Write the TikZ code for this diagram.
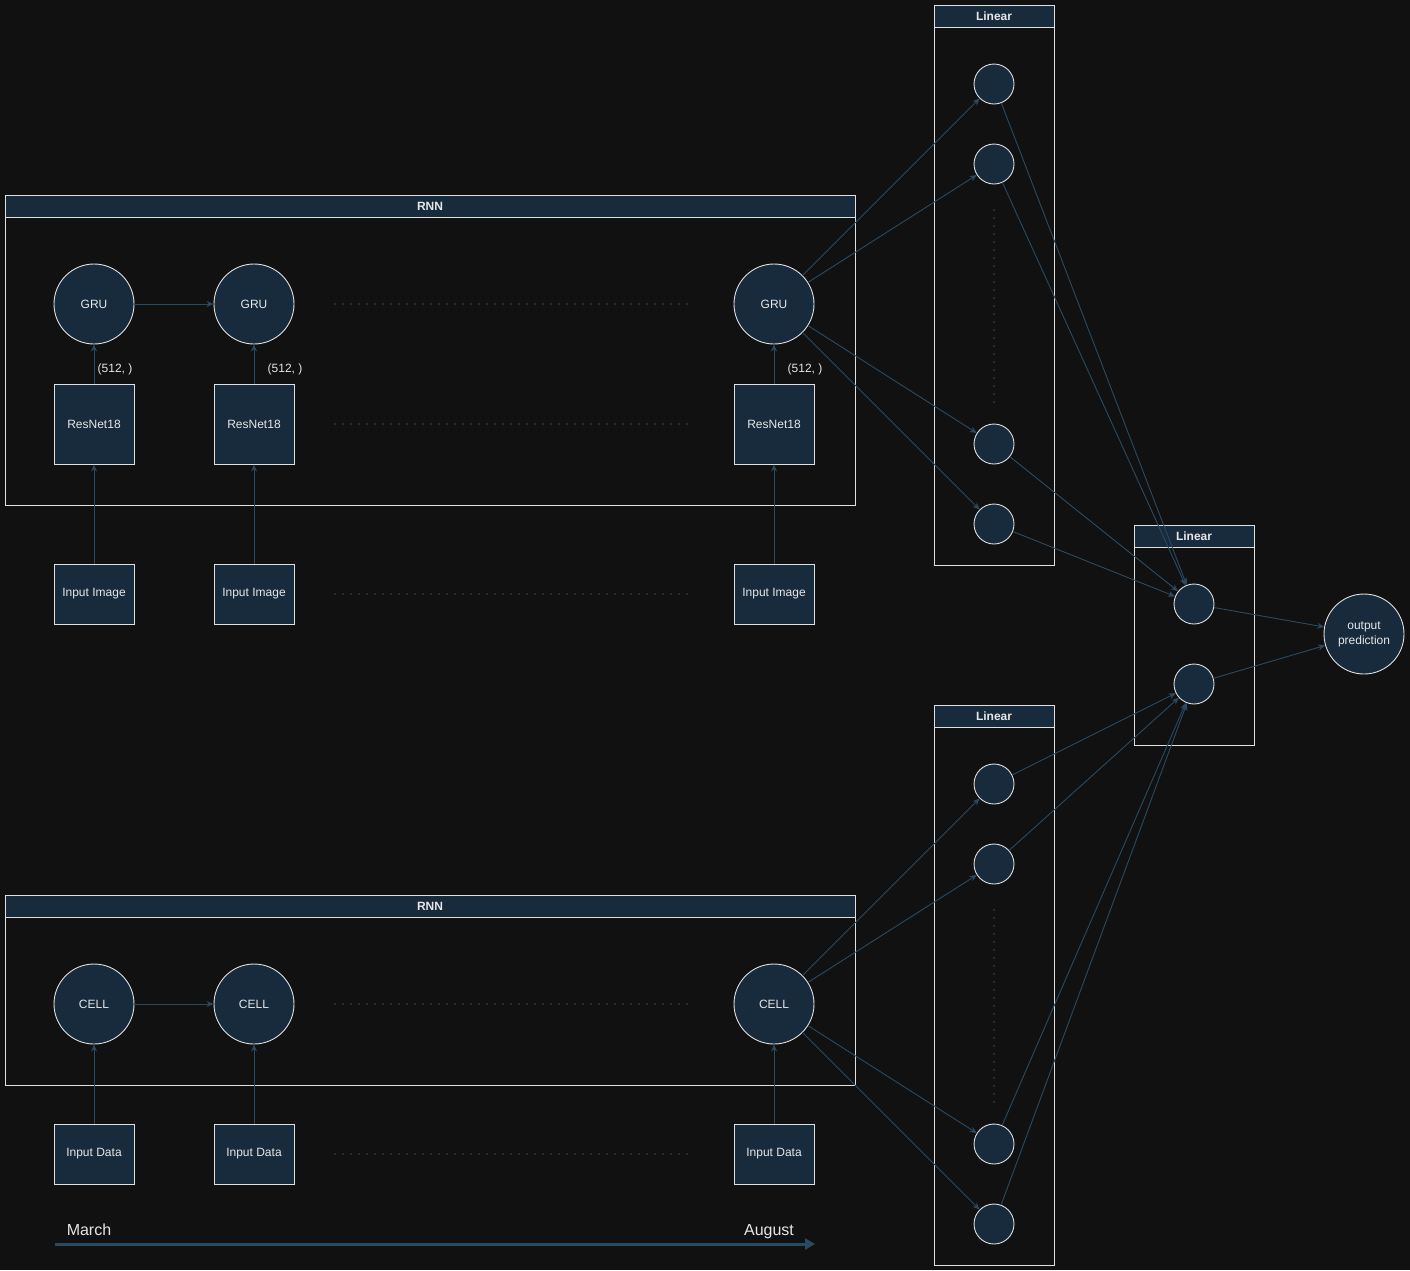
\documentclass[tikz,border=0pt]{standalone}
\usepackage{fontspec}
\setmainfont{Liberation Sans}
\usetikzlibrary{arrows.meta}
\definecolor{bg}{HTML}{111111}
\definecolor{nfill}{HTML}{182B3C}
\definecolor{ecol}{HTML}{2A4A62}
\definecolor{dcol}{HTML}{2F4E66}
\definecolor{txt}{HTML}{E6E6E6}
\definecolor{bord}{HTML}{E0E0E0}
\tikzset{
  circ/.style={circle, draw=bord, line width=0.9pt, fill=nfill, minimum size=80pt, inner sep=0pt, text=txt, font=\fontsize{12}{14}\selectfont},
  smallcirc/.style={circle, draw=bord, line width=0.9pt, fill=nfill, minimum size=40pt, inner sep=0pt},
  sqbox/.style={rectangle, draw=bord, line width=0.9pt, fill=nfill, minimum width=80pt, minimum height=80pt, inner sep=0pt, text=txt, font=\fontsize{12}{14}\selectfont},
  inbox/.style={rectangle, draw=bord, line width=0.9pt, fill=nfill, minimum width=80pt, minimum height=60pt, inner sep=0pt, text=txt, font=\fontsize{12}{14}\selectfont},
  cont/.style={rectangle, draw=bord, line width=0.9pt, inner sep=0pt},
  hdr/.style={rectangle, draw=bord, line width=0.9pt, fill=nfill, minimum height=22pt, inner sep=0pt, text=txt, font=\bfseries\fontsize{12}{14}\selectfont},
  conn/.style={draw=ecol, line width=0.9pt, -{Stealth[length=7pt,width=6pt]}},
  dots/.style={draw=dcol, line width=1.8pt, line cap=round, dash pattern=on 0pt off 8pt},
  lbl/.style={text=txt, font=\fontsize{12}{14}\selectfont, inner sep=0pt},
}
\begin{document}
\begin{tikzpicture}[x=1pt,y=-1pt]
\fill[bg] (0,0) rectangle (1410,1270);
\useasboundingbox (0,0) rectangle (1410,1270);

% ---------- top RNN ----------
\node[cont, minimum width=850pt, minimum height=310pt] (rnnA) at (430,350) {};
\node[hdr, minimum width=850pt] (rnnAh) at (430,206) {RNN};
\node[circ] (g1) at (94,304) {GRU};
\node[circ] (g2) at (254,304) {GRU};
\node[circ] (g3) at (774,304) {GRU};
\node[sqbox] (r1) at (94,424) {ResNet18};
\node[sqbox] (r2) at (254,424) {ResNet18};
\node[sqbox] (r3) at (774,424) {ResNet18};
\node[inbox] (i1) at (94,594) {Input Image};
\node[inbox] (i2) at (254,594) {Input Image};
\node[inbox] (i3) at (774,594) {Input Image};
\node[lbl] (s1) at (115,369) {(512, )};
\node[lbl] (s2) at (285,369) {(512, )};
\node[lbl] (s3) at (805,369) {(512, )};
\draw[conn] (g1) -- (g2);
\draw[conn] (r1) -- (g1);
\draw[conn] (r2) -- (g2);
\draw[conn] (r3) -- (g3);
\draw[conn] (i1) -- (r1);
\draw[conn] (i2) -- (r2);
\draw[conn] (i3) -- (r3);
\coordinate (da1) at (335,304); \coordinate (da2) at (690,304);
\coordinate (db1) at (335,424); \coordinate (db2) at (690,424);
\coordinate (dc1) at (335,594); \coordinate (dc2) at (690,594);
\draw[dots] (da1) -- (da2);
\draw[dots] (db1) -- (db2);
\draw[dots] (dc1) -- (dc2);

% ---------- bottom RNN ----------
\node[cont, minimum width=850pt, minimum height=190pt] (rnnB) at (430,990) {};
\node[hdr, minimum width=850pt] (rnnBh) at (430,906) {RNN};
\node[circ] (c1) at (94,1004) {CELL};
\node[circ] (c2) at (254,1004) {CELL};
\node[circ] (c3) at (774,1004) {CELL};
\node[inbox] (d1) at (94,1154) {Input Data};
\node[inbox] (d2) at (254,1154) {Input Data};
\node[inbox] (d3) at (774,1154) {Input Data};
\draw[conn] (c1) -- (c2);
\draw[conn] (d1) -- (c1);
\draw[conn] (d2) -- (c2);
\draw[conn] (d3) -- (c3);
\coordinate (de1) at (335,1004); \coordinate (de2) at (690,1004);
\coordinate (df1) at (335,1154); \coordinate (df2) at (690,1154);
\draw[dots] (de1) -- (de2);
\draw[dots] (df1) -- (df2);

% ---------- top Linear ----------
\node[cont, minimum width=120pt, minimum height=560pt] (linA) at (994,285) {};
\node[hdr, minimum width=120pt] (linAh) at (994,16) {Linear};
\node[smallcirc] (a1) at (994,84) {};
\node[smallcirc] (a2) at (994,164) {};
\node[smallcirc] (a3) at (994,444) {};
\node[smallcirc] (a4) at (994,524) {};
\coordinate (dg1) at (994,210); \coordinate (dg2) at (994,405);
\draw[dots] (dg1) -- (dg2);

% ---------- bottom Linear ----------
\node[cont, minimum width=120pt, minimum height=560pt] (linB) at (994,985) {};
\node[hdr, minimum width=120pt] (linBh) at (994,716) {Linear};
\node[smallcirc] (b1) at (994,784) {};
\node[smallcirc] (b2) at (994,864) {};
\node[smallcirc] (b3) at (994,1144) {};
\node[smallcirc] (b4) at (994,1224) {};
\coordinate (dh1) at (994,910); \coordinate (dh2) at (994,1105);
\draw[dots] (dh1) -- (dh2);

% ---------- right Linear ----------
\node[cont, minimum width=120pt, minimum height=220pt] (linC) at (1194,635) {};
\node[hdr, minimum width=120pt] (linCh) at (1194,536) {Linear};
\node[smallcirc] (e1) at (1194,604) {};
\node[smallcirc] (e2) at (1194,684) {};

\node[circ, align=center, font=\fontsize{12}{15}\selectfont] (out) at (1364,634) {output\\prediction};

% ---------- connections ----------
\foreach \t in {a1,a2,a3,a4} \draw[conn] (g3) -- (\t);
\foreach \t in {b1,b2,b3,b4} \draw[conn] (c3) -- (\t);
\foreach \s in {a1,a2,a3,a4} \draw[conn] (\s) -- (e1);
\foreach \s in {b1,b2,b3,b4} \draw[conn] (\s) -- (e2);
\draw[conn] (e1) -- (out);
\draw[conn] (e2) -- (out);

% ---------- timeline ----------
\coordinate (t1) at (55,1244);
\coordinate (t2) at (815,1244);
\draw[draw=ecol, line width=3pt, -{Triangle[length=10pt,width=11pt]}] (t1) -- (t2);
\node[text=txt, font=\fontsize{16}{18}\selectfont, inner sep=0pt, anchor=base] (mar) at (89,1235) {March};
\node[text=txt, font=\fontsize{16}{18}\selectfont, inner sep=0pt, anchor=base] (aug) at (769,1235) {August};
\end{tikzpicture}
\end{document}
